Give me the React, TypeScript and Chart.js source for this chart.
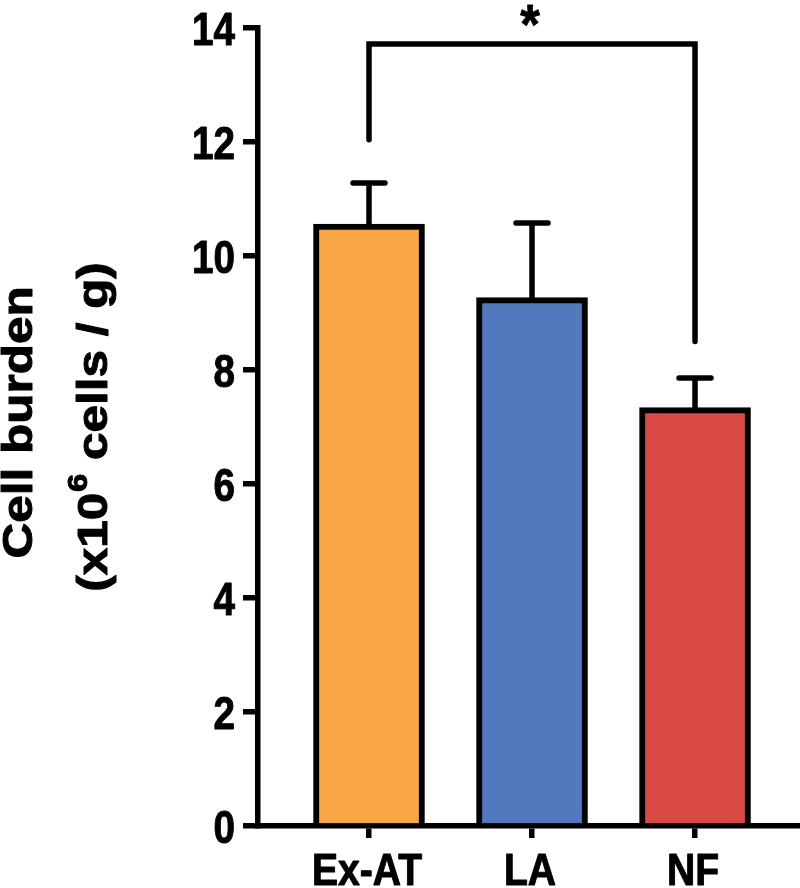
import React, { useEffect, useRef } from "react";
import { Chart, registerables } from "chart.js";

Chart.register(...registerables);

const categories = ["Ex-AT", "LA", "NF"];
const means = [10.56, 9.27, 7.34];
const errorTops = [11.28, 10.58, 7.86];
const barColors = ["#F9A644", "#5278BE", "#D84A43"];
const yTicks = [0, 2, 4, 6, 8, 10, 12, 14];
// significance bracket: from category 0 to category 2
const bracketFrom = 0;
const bracketTo = 2;
const bracketLeftStart = 12.04;
const bracketTop = 13.72;
const bracketRightEnd = 8.5;
const bracketLabel = "*";
const titleLine1 = "Cell burden";
const titleLine2a = "(x10";
const titleLine2sup = "6";
const titleLine2b = " cells / g)";

const SANS = "'Liberation Sans', Arial, Helvetica, sans-serif";

function boldText(ctx: CanvasRenderingContext2D, text: string, x: number, y: number) {
  ctx.fillText(text, x, y);
  ctx.strokeText(text, x, y);
}

function stretchedText(
  ctx: CanvasRenderingContext2D,
  text: string,
  x: number,
  y: number,
  sx: number,
  align: "left" | "right" | "center"
) {
  ctx.save();
  ctx.translate(x, y);
  ctx.scale(sx, 1);
  ctx.textAlign = align;
  boldText(ctx, text, 0, 0);
  ctx.restore();
}

const overlayPlugin = {
  id: "overlay",
  afterDatasetsDraw(chart: any) {
    const ctx = chart.ctx;
    const xs = chart.scales.x;
    const ys = chart.scales.y;
    ctx.save();
    ctx.strokeStyle = "#000";
    ctx.lineWidth = 5.5;
    ctx.lineCap = "round";
    // error bars
    errorTops.forEach((top, i) => {
      const x = xs.getPixelForValue(i);
      const y0 = ys.getPixelForValue(means[i]);
      const y1 = ys.getPixelForValue(top);
      ctx.beginPath();
      ctx.moveTo(x, y0);
      ctx.lineTo(x, y1);
      ctx.moveTo(x - 16, y1);
      ctx.lineTo(x + 16, y1);
      ctx.stroke();
    });
    // bracket
    const xa = xs.getPixelForValue(bracketFrom);
    const xb = xs.getPixelForValue(bracketTo);
    const yt = ys.getPixelForValue(bracketTop);
    ctx.lineJoin = "miter";
    ctx.beginPath();
    ctx.moveTo(xa, ys.getPixelForValue(bracketLeftStart));
    ctx.lineTo(xa, yt);
    ctx.lineTo(xb, yt);
    ctx.lineTo(xb, ys.getPixelForValue(bracketRightEnd));
    ctx.stroke();
    // asterisk
    ctx.fillStyle = "#000";
    ctx.lineWidth = 0.8;
    ctx.lineJoin = "round";
    ctx.font = `bold 56px ${SANS}`;
    ctx.textBaseline = "alphabetic";
    stretchedText(ctx, bracketLabel, (xa + xb) / 2 - 2, yt - 1, 0.9, "center");
    ctx.restore();
  },
  afterDraw(chart: any) {
    const ctx = chart.ctx;
    const xs = chart.scales.x;
    const ys = chart.scales.y;
    ctx.save();
    ctx.fillStyle = "#000";
    ctx.strokeStyle = "#000";
    ctx.lineWidth = 1;
    ctx.lineJoin = "round";
    ctx.textBaseline = "alphabetic";
    // y tick labels
    ctx.font = `bold 46px ${SANS}`;
    ys.ticks.forEach((t: any) => {
      const py = ys.getPixelForValue(t.value);
      stretchedText(ctx, String(t.value), ys.right - 23, py + 17, 0.84, "right");
    });
    // x tick labels
    ctx.font = `bold 45px ${SANS}`;
    xs.ticks.forEach((t: any) => {
      const px = xs.getPixelForValue(t.value);
      const label = categories[t.value] ?? "";
      stretchedText(ctx, label, px - 2, xs.top + 59, 0.87, "center");
    });

    // axis title (rotated, two lines centred on the plot area)
    const cy = (chart.chartArea.top + chart.chartArea.bottom) / 2;
    const stretch = 1.15;
    ctx.textAlign = "left";
    // line 1
    ctx.save();
    ctx.translate(32, cy);
    ctx.rotate(-Math.PI / 2);
    ctx.scale(stretch, 1);
    ctx.font = `bold 43px ${SANS}`;
    const w1 = ctx.measureText(titleLine1).width;
    boldText(ctx, titleLine1, -w1 / 2 + 4, 0);
    ctx.restore();
    // line 2
    ctx.save();
    ctx.translate(107, cy);
    ctx.rotate(-Math.PI / 2);
    ctx.scale(stretch, 1);
    ctx.font = `bold 43px ${SANS}`;
    const wa = ctx.measureText(titleLine2a).width;
    const wb = ctx.measureText(titleLine2b).width;
    ctx.font = `bold 28px ${SANS}`;
    const ws = ctx.measureText(titleLine2sup).width + 1;
    let x = -(wa + ws + wb) / 2;
    ctx.font = `bold 43px ${SANS}`;
    boldText(ctx, titleLine2a, x, 0);
    x += wa;
    ctx.font = `bold 28px ${SANS}`;
    boldText(ctx, titleLine2sup, x + 1, -20);
    x += ws;
    ctx.font = `bold 43px ${SANS}`;
    boldText(ctx, titleLine2b, x, 0);
    ctx.restore();
    ctx.restore();
  },
};

export default function App() {
  const ref = useRef<HTMLCanvasElement | null>(null);
  useEffect(() => {
    document.body.style.margin = "0";
    const canvas = ref.current;
    if (!canvas) return;
    const chart = new Chart(canvas, {
      type: "bar",
      data: {
        datasets: [
          {
            data: means.map((v, i) => ({ x: i, y: v })),
            backgroundColor: barColors,
            borderColor: "#000",
            borderWidth: 6,
            barThickness: 111,
          } as any,
        ],
      },
      options: {
        animation: false,
        responsive: false,
        devicePixelRatio: 1,
        layout: { padding: { top: 28, right: 0, left: 0, bottom: 0 } },
        plugins: {
          legend: { display: false },
          tooltip: { enabled: false },
        },
        scales: {
          x: {
            type: "linear",
            offset: false,
            min: -0.681,
            max: 2.644,
            afterBuildTicks: (scale: any) => {
              scale.ticks = categories.map((_, i) => ({ value: i }));
            },
            afterFit: (scale: any) => {
              scale.height = 62;
            },
            grid: {
              offset: false,
              drawOnChartArea: false,
              drawTicks: true,
              tickLength: 12,
              lineWidth: 5.5,
              color: "#000",
            },
            border: { display: true, width: 5.5, color: "#000" },
            ticks: { display: false },
          },
          y: {
            type: "linear",
            min: 0,
            max: 14,
            afterBuildTicks: (scale: any) => {
              scale.ticks = yTicks.map((v) => ({ value: v }));
            },
            afterFit: (scale: any) => {
              scale.width = 258;
            },
            grid: {
              offset: false,
              drawOnChartArea: false,
              drawTicks: true,
              tickLength: 15,
              lineWidth: 5.5,
              color: "#000",
            },
            border: { display: true, width: 5.5, color: "#000" },
            ticks: { display: false },
          },
        },
      } as any,
      plugins: [overlayPlugin],
    });
    return () => chart.destroy();
  }, []);
  return (
    <div style={{ width: 800, height: 888, background: "#fff" }}>
      <canvas ref={ref} width={800} height={888} style={{ display: "block" }} />
    </div>
  );
}
